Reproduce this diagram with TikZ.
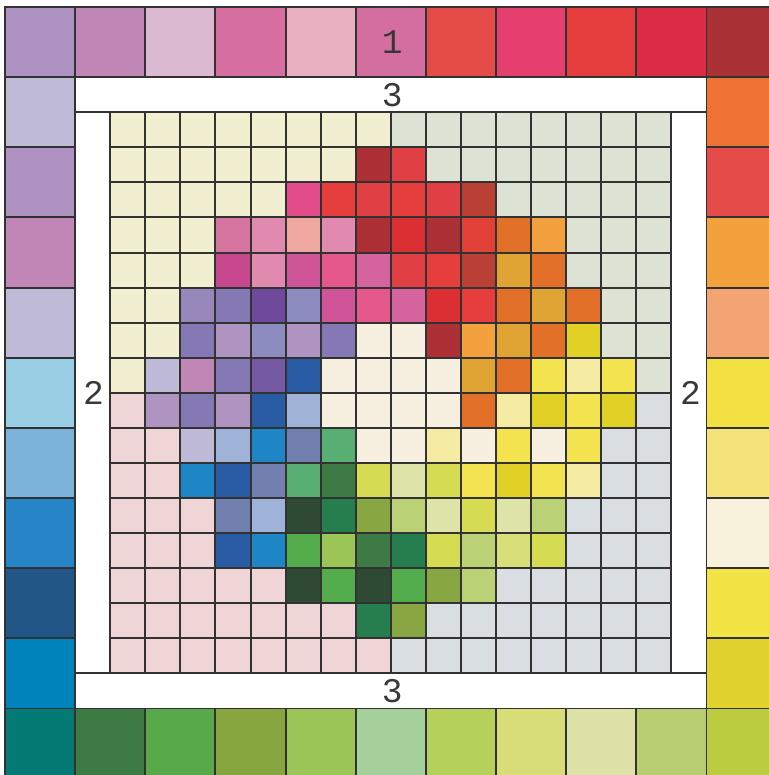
\documentclass[tikz,border=0pt]{standalone}
\usepackage{fontspec}
\newfontfamily\labelfont{Liberation Mono}
% outer ring colours
\definecolor{oTa}{HTML}{AE93C2}\definecolor{oTb}{HTML}{C087B6}\definecolor{oTc}{HTML}{DBB9D0}
\definecolor{oTd}{HTML}{D66E9F}\definecolor{oTe}{HTML}{E9B1C0}\definecolor{oTf}{HTML}{D56EA0}
\definecolor{oTg}{HTML}{E44D47}\definecolor{oTh}{HTML}{E43F6E}\definecolor{oTi}{HTML}{E53D3D}
\definecolor{oTj}{HTML}{DA2C45}\definecolor{oTk}{HTML}{AA3236}
\definecolor{oRa}{HTML}{EE7233}\definecolor{oRb}{HTML}{E54B48}\definecolor{oRc}{HTML}{F2A13D}
\definecolor{oRd}{HTML}{F2A472}\definecolor{oRe}{HTML}{F3E143}\definecolor{oRf}{HTML}{F5E37A}
\definecolor{oRg}{HTML}{F8F2DC}\definecolor{oRh}{HTML}{F3E344}\definecolor{oRi}{HTML}{E1D22F}
\definecolor{oRj}{HTML}{BCCC3F}
\definecolor{oBa}{HTML}{047A74}\definecolor{oBb}{HTML}{3E7A44}\definecolor{oBc}{HTML}{57A94A}
\definecolor{oBd}{HTML}{87A640}\definecolor{oBe}{HTML}{9BC556}\definecolor{oBf}{HTML}{A5D09B}
\definecolor{oBg}{HTML}{B5D15B}\definecolor{oBh}{HTML}{D8DD77}\definecolor{oBi}{HTML}{DEE2A8}
\definecolor{oBj}{HTML}{B9CE73}
\definecolor{oLa}{HTML}{BFBAD6}\definecolor{oLb}{HTML}{AF92C2}\definecolor{oLc}{HTML}{C087B6}
\definecolor{oLd}{HTML}{BFBAD6}\definecolor{oLe}{HTML}{98CFE5}\definecolor{oLf}{HTML}{7AB2DA}
\definecolor{oLg}{HTML}{2585C6}\definecolor{oLh}{HTML}{225686}\definecolor{oLi}{HTML}{0083BA}
% inner palette
\definecolor{kC}{HTML}{F2EED0}\definecolor{kG}{HTML}{DCE3D5}\definecolor{kP}{HTML}{F0D5D7}
\definecolor{kGy}{HTML}{D9DEE3}\definecolor{kCr}{HTML}{F7F0E0}\definecolor{kLY}{HTML}{F5EBA3}
\definecolor{kYe}{HTML}{E1D126}\definecolor{kYe2}{HTML}{F3E34F}\definecolor{kGd}{HTML}{E0A434}
\definecolor{kOr}{HTML}{E27029}\definecolor{kOr2}{HTML}{F3A03E}\definecolor{kRd}{HTML}{E63D3D}
\definecolor{kRd2}{HTML}{E04044}\definecolor{kRd3}{HTML}{DC2F33}\definecolor{kRd4}{HTML}{E04035}
\definecolor{kDR}{HTML}{AD3036}\definecolor{kBr}{HTML}{BA4035}\definecolor{kPk}{HTML}{E24C8A}
\definecolor{kPk2}{HTML}{E5588A}\definecolor{kPk3}{HTML}{D5649E}\definecolor{kMv}{HTML}{D675A0}
\definecolor{kPl}{HTML}{DF8AAE}\definecolor{kSa}{HTML}{EEA8A0}\definecolor{kMg}{HTML}{C84890}
\definecolor{kMg2}{HTML}{D05598}\definecolor{kLv}{HTML}{9887BB}\definecolor{kLv2}{HTML}{8479B5}
\definecolor{kLv3}{HTML}{8D8CC0}\definecolor{kLv4}{HTML}{AF94C2}\definecolor{kLv5}{HTML}{BEB9D6}
\definecolor{kMv2}{HTML}{C087B6}\definecolor{kPu}{HTML}{6F4A9C}\definecolor{kPu2}{HTML}{7559A3}
\definecolor{kBl}{HTML}{2A5BA5}\definecolor{kLB}{HTML}{9FB3D8}\definecolor{kMB}{HTML}{1E86C6}
\definecolor{kSB}{HTML}{7280B0}\definecolor{kGr1}{HTML}{59AE74}\definecolor{kDG}{HTML}{3E7A44}
\definecolor{kYG}{HTML}{D5DC52}\definecolor{kDDG}{HTML}{2F4A34}\definecolor{kEG}{HTML}{267D4E}
\definecolor{kOG}{HTML}{88A641}\definecolor{kGr2}{HTML}{53AD4C}\definecolor{kLG}{HTML}{9BC556}
\definecolor{kLG2}{HTML}{BBD175}\definecolor{kPG}{HTML}{DEE3A8}\definecolor{kYG2}{HTML}{D8DE78}
\definecolor{lineC}{HTML}{323232}\definecolor{txtC}{HTML}{383838}
\begin{document}
\begin{tikzpicture}[x=1cm, y=-1cm,
  gridline/.style={draw=lineC, line width=0.8pt},
  lbl/.style={font=\labelfont\fontsize{14}{14}\selectfont, text=txtC, inner sep=0pt}]
\useasboundingbox (-0.0713,-0.0998) rectangle (10.877,10.948);
\fill[white] (-0.0713,-0.0998) rectangle (10.877,10.948);
% outer ring
\foreach \x/\y/\c in {0/0/oTa,1/0/oTb,2/0/oTc,3/0/oTd,4/0/oTe,5/0/oTf,6/0/oTg,7/0/oTh,8/0/oTi,9/0/oTj,10/0/oTk,
  10/1/oRa,10/2/oRb,10/3/oRc,10/4/oRd,10/5/oRe,10/6/oRf,10/7/oRg,10/8/oRh,10/9/oRi,10/10/oRj,
  0/10/oBa,1/10/oBb,2/10/oBc,3/10/oBd,4/10/oBe,5/10/oBf,6/10/oBg,7/10/oBh,8/10/oBi,9/10/oBj,
  0/1/oLa,0/2/oLb,0/3/oLc,0/4/oLd,0/5/oLe,0/6/oLf,0/7/oLg,0/8/oLh,0/9/oLi}
  { \filldraw[fill=\c, gridline] (\x,\y) rectangle ++(1,1); }
% inner mosaic
\foreach \row [count=\r from 0] in {
  {kC,kC,kC,kC,kC,kC,kC,kC,kG,kG,kG,kG,kG,kG,kG,kG},
  {kC,kC,kC,kC,kC,kC,kC,kDR,kRd2,kG,kG,kG,kG,kG,kG,kG},
  {kC,kC,kC,kC,kC,kPk,kRd,kRd2,kRd,kRd2,kBr,kG,kG,kG,kG,kG},
  {kC,kC,kC,kMv,kPl,kSa,kPl,kDR,kRd3,kDR,kRd4,kOr,kOr2,kG,kG,kG},
  {kC,kC,kC,kMg,kPl,kMg2,kPk2,kPk3,kRd2,kRd,kBr,kGd,kOr,kG,kG,kG},
  {kC,kC,kLv,kLv2,kPu,kLv3,kMg2,kPk2,kPk3,kRd3,kRd,kOr,kGd,kOr,kG,kG},
  {kC,kC,kLv2,kLv4,kLv3,kLv4,kLv2,kCr,kCr,kDR,kOr2,kGd,kOr,kYe,kG,kG},
  {kC,kLv5,kMv2,kLv2,kPu2,kBl,kCr,kCr,kCr,kCr,kGd,kOr,kYe2,kLY,kYe2,kG},
  {kP,kLv4,kLv2,kLv4,kBl,kLB,kCr,kCr,kCr,kCr,kOr,kLY,kYe,kYe2,kYe,kGy},
  {kP,kP,kLv5,kLB,kMB,kSB,kGr1,kCr,kCr,kLY,kCr,kYe2,kCr,kYe2,kGy,kGy},
  {kP,kP,kMB,kBl,kSB,kGr1,kDG,kYG,kPG,kYG,kYe2,kYe,kYe2,kLY,kGy,kGy},
  {kP,kP,kP,kSB,kLB,kDDG,kEG,kOG,kLG2,kPG,kYG,kPG,kLG2,kGy,kGy,kGy},
  {kP,kP,kP,kBl,kMB,kGr2,kLG,kDG,kEG,kYG,kLG2,kYG2,kYG,kGy,kGy,kGy},
  {kP,kP,kP,kP,kP,kDDG,kGr2,kDDG,kGr2,kOG,kLG2,kGy,kGy,kGy,kGy,kGy},
  {kP,kP,kP,kP,kP,kP,kP,kEG,kOG,kGy,kGy,kGy,kGy,kGy,kGy,kGy},
  {kP,kP,kP,kP,kP,kP,kP,kP,kGy,kGy,kGy,kGy,kGy,kGy,kGy,kGy}}
{
  \foreach \c [count=\k from 0] in \row
    { \fill[\c] ({1.5+0.5*\k},{1.5+0.5*\r}) rectangle ++(0.5,0.5); }
}
% inner grid lines
\foreach \i in {0,...,16} {
  \draw[gridline] ({1.5+0.5*\i},1.5) -- ({1.5+0.5*\i},9.5);
  \draw[gridline] (1.5,{1.5+0.5*\i}) -- (9.5,{1.5+0.5*\i});
}
\draw[gridline] (1,1.5) -- (10,1.5) (1,9.5) -- (10,9.5);
% labels
\node[lbl] (one) at (5.52,0.5) {1};
\node[lbl] (threeTop) at (5.52,1.25) {3};
\node[lbl] (threeBot) at (5.52,9.75) {3};
\node[lbl] (twoLeft) at (1.26,5.5) {2};
\node[lbl] (twoRight) at (9.77,5.5) {2};
\end{tikzpicture}
\end{document}
